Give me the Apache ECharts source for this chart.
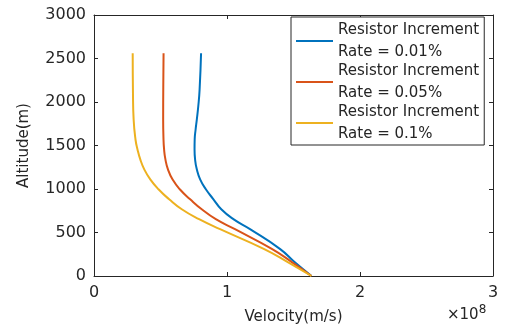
<!DOCTYPE html>
<html><head><meta charset="utf-8">
<script src="https://cdn.jsdelivr.net/npm/echarts@6/dist/echarts.min.js"></script>
<style>html,body{margin:0;padding:0;background:#fff}#c{width:505px;height:330px}</style>
</head><body><div id="c"></div>
<script>
// Velocity in units of 1e8 m/s, altitude in m
const altBlue = [0, 157, 309, 538, 653, 767, 882, 997, 1111, 1226, 1340, 1455, 1570, 1684, 1798, 1951, 2142, 2560];
const velBlue = [1.635, 1.51, 1.40, 1.173, 1.048, 0.957, 0.898, 0.841, 0.798, 0.773, 0.76, 0.756, 0.757, 0.764, 0.773, 0.784, 0.794, 0.805];
const altRed = [0, 157, 309, 538, 653, 767, 882, 997, 1111, 1226, 1340, 1455, 1600, 1800, 2200, 2560];
const velRed = [1.635, 1.49, 1.34, 1.06, 0.916, 0.81, 0.723, 0.645, 0.59, 0.556, 0.537, 0.527, 0.522, 0.52, 0.521, 0.523];
const altYellow = [0, 157, 309, 538, 653, 767, 882, 997, 1111, 1226, 1340, 1455, 1569, 1798, 2100, 2560];
const velYellow = [1.635, 1.46, 1.28, 0.948, 0.79, 0.66, 0.565, 0.485, 0.423, 0.378, 0.348, 0.327, 0.312, 0.298, 0.293, 0.291];
const seriesNames = ['Resistor Increment\nRate = 0.01%', 'Resistor Increment\nRate = 0.05%', 'Resistor Increment\nRate = 0.1%'];
const xTicks = [0, 1, 2, 3];
const yTicks = [0, 500, 1000, 1500, 2000, 2500, 3000];

const colors = ['#0072BD', '#D95319', '#EDB120'];
const txt = '#262626';
const font = 'DejaVu Sans';
function pairs(v, a) { return v.map((x, i) => [x, a[i]]); }
const chart = echarts.init(document.getElementById('c'), null, {renderer: 'canvas'});
function axisCommon() {
  return {
    axisLine: {show: true, onZero: false, lineStyle: {color: txt, width: 1}},
    axisTick: {show: true, inside: true, length: 4, lineStyle: {color: txt}},
    splitLine: {show: false}
  };
}
chart.setOption({
  animation: false,
  backgroundColor: '#fff',
  color: colors,
  textStyle: {fontFamily: font},
  grid: {left: 94, right: 12, top: 15, bottom: 53, containLabel: false},
  xAxis: [
    Object.assign({type: 'value', min: xTicks[0], max: xTicks[xTicks.length - 1], interval: 1,
      name: 'Velocity(m/s)', nameLocation: 'middle', nameGap: 34,
      nameTextStyle: {color: txt, fontSize: 15, fontFamily: font},
      axisLabel: {color: txt, fontSize: 16, fontFamily: font, margin: 9, formatter: v => String(v)}}, axisCommon()),
    Object.assign({type: 'value', position: 'top', min: xTicks[0], max: xTicks[xTicks.length - 1], interval: 1,
      axisLabel: {show: false}}, axisCommon())
  ],
  yAxis: [
    Object.assign({type: 'value', min: yTicks[0], max: yTicks[yTicks.length - 1], interval: 500,
      name: 'Altitude(m)', nameLocation: 'middle', nameGap: 62,
      nameTextStyle: {color: txt, fontSize: 15, fontFamily: font},
      axisLabel: {color: txt, fontSize: 16, fontFamily: font, margin: 8, formatter: v => String(v)}}, axisCommon()),
    Object.assign({type: 'value', position: 'right', min: yTicks[0], max: yTicks[yTicks.length - 1], interval: 500,
      axisLabel: {show: false}}, axisCommon())
  ],
  legend: {
    left: 291, top: 17, orient: 'vertical',
    icon: 'rect', itemWidth: 37, itemHeight: 2, itemGap: -3,
    padding: [2, 5, 0, 5],
    backgroundColor: '#fff', borderColor: txt, borderWidth: 1,
    textStyle: {color: txt, fontSize: 15, fontFamily: font, lineHeight: 22},
    data: seriesNames
  },
  graphic: [{
    type: 'text', left: 447, top: 304,
    style: {text: '×10{s|8}', fill: txt, font: '15px DejaVu Sans',
      rich: {s: {fontSize: 12, fontFamily: font, verticalAlign: 'top', padding: [0, 0, 10, 0]}}}
  }],
  series: [
    {name: seriesNames[0], type: 'line', data: pairs(velBlue, altBlue), smooth: 0.5, symbol: 'none', lineStyle: {width: 2}},
    {name: seriesNames[1], type: 'line', data: pairs(velRed, altRed), smooth: 0.5, symbol: 'none', lineStyle: {width: 2}},
    {name: seriesNames[2], type: 'line', data: pairs(velYellow, altYellow), smooth: 0.5, symbol: 'none', lineStyle: {width: 2}}
  ]
});
</script></body></html>
